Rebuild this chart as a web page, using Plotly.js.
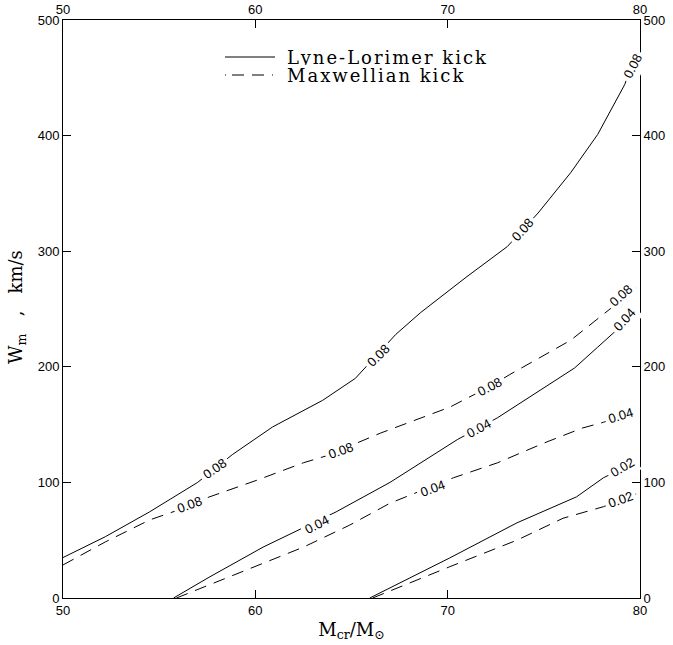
<!DOCTYPE html>
<html>
<head>
<meta charset="utf-8">
<script src="https://cdn.plot.ly/plotly-3.0.1.min.js"></script>
<style>html,body{margin:0;padding:0;background:#fff;}#chart{width:673px;height:645px;}</style>
</head>
<body>
<div id="chart"></div>
<script>
// Lyne-Lorimer kick (solid) contours
const llTop_x = [50, 52.2, 54.5, 57, 58.8, 60.9, 63.5, 65.2, 67.3, 68.6, 71, 73.1, 74.7, 76.4, 77.8, 79.2, 79.8];
const llTop_y = [35, 53, 74.5, 100, 124, 148, 171, 190, 228, 247, 278, 304, 333, 368, 401, 444, 470];
const llMid_x = [55.75, 57.6, 60.4, 62.3, 64.2, 67.0, 70.5, 72.6, 75.0, 76.6, 77.8, 78.8, 79.8];
const llMid_y = [0, 18, 44, 59, 74.5, 100, 137, 156, 182, 199, 217, 232, 248];
const llLow_x = [65.95, 70.1, 73.6, 76.7, 78.1, 79.8];
const llLow_y = [0, 34.6, 65, 87.5, 104, 118];
// Maxwellian kick (dashed) contours
const mxTop_x = [50, 52.2, 54.5, 55.8, 57.6, 60.1, 62.5, 63.7, 66.5, 70.1, 72.2, 73.2, 76.4, 78.4, 79.8];
const mxTop_y = [28.6, 48.5, 67.5, 75, 87.4, 102, 117, 123, 142.6, 165, 183, 193, 223, 249, 268];
const mxMid_x = [55.9, 56.6, 58.3, 60.4, 62.5, 64.9, 67.0, 70.3, 72.6, 75.0, 77.0, 78.1, 79.8];
const mxMid_y = [0, 4.6, 16, 30, 44, 63, 82, 104, 117, 134, 147, 152, 162];
const mxLow_x = [66.1, 67.5, 70.1, 73.6, 76.0, 78.1, 79.8];
const mxLow_y = [0, 9.5, 27, 50, 69, 79, 90];
// contour labels
const labelText  = ["0.08","0.08","0.08","0.08", "0.08","0.08","0.08","0.08", "0.04","0.04","0.04", "0.04","0.04", "0.02","0.02"];
const labelX     = [57.9, 66.4, 73.9, 79.6,  56.6, 64.45, 72.2, 79.0,  63.2, 71.6, 79.2,  69.2, 79.0,  79.07, 79.0];
const labelY     = [112, 209.5, 318.6, 460,  80.5, 128, 183, 262,  64, 147, 240.7,  95, 158,  112.5, 85];
const labelAngle = [-35, -45, -48, -63,  -20, -20, -27, -42,  -27, -28, -48,  -20, -17,  -30, -20];
// axes
const xTicks = [50, 60, 70, 80];
const yTicks = [0, 100, 200, 300, 400, 500];
const legendNames = ["Lyne-Lorimer kick", "Maxwellian kick"];
const xTitle = "M<sub>cr</sub>/M<sub>\u2299</sub>";
const yTitle = "W<sub>m</sub>   ,   km/s";

const solid = {color: "#000", width: 1, dash: "solid"};
const dashed = {color: "#000", width: 1, dash: "12px,8px"};
function tr(x, y, line) {
  return {x: x, y: y, type: "scatter", mode: "lines", line: line, showlegend: false, hoverinfo: "skip"};
}
const data = [
  tr(llTop_x, llTop_y, solid), tr(llMid_x, llMid_y, solid), tr(llLow_x, llLow_y, solid),
  tr(mxTop_x, mxTop_y, dashed), tr(mxMid_x, mxMid_y, dashed), tr(mxLow_x, mxLow_y, dashed),
  {x: [xTicks[0], xTicks[xTicks.length-1]], y: [yTicks[0], yTicks[yTicks.length-1]], xaxis: "x2", yaxis: "y2",
   type: "scatter", mode: "markers", marker: {opacity: 0}, showlegend: false, hoverinfo: "skip"}
];

const tickFont = {family: "Liberation Sans, Arial, sans-serif", size: 13, color: "#000"};
const serif = "DejaVu Serif, Liberation Serif, serif";
const axBase = {
  range: [50, 80], tickvals: xTicks, ticks: "inside", ticklen: 8, tickcolor: "#000", tickwidth: 1,
  showline: true, linecolor: "#000", linewidth: 1, showgrid: false, zeroline: false, tickfont: tickFont
};
const ayBase = {
  range: [0, 500], tickvals: yTicks, ticks: "inside", ticklen: 8, tickcolor: "#000", tickwidth: 1,
  showline: true, linecolor: "#000", linewidth: 1, showgrid: false, zeroline: false, tickfont: tickFont
};

const annotations = labelText.map((t, i) => ({
  x: labelX[i], y: labelY[i], xref: "x", yref: "y", text: t, showarrow: false,
  textangle: labelAngle[i], font: {family: "Liberation Sans, Arial, sans-serif", size: 13, color: "#000"},
  bgcolor: "#fff", borderpad: 3
}));
// legend text
const legX = (285-63)/577;
annotations.push({xref: "paper", yref: "paper", x: legX, y: 1 - (57-20)/578, xanchor: "left", yanchor: "middle", height: 16,
  text: '<span style="letter-spacing:2px">' + legendNames[0] + '</span>', showarrow: false, font: {family: serif, size: 18, color: "#000"}});
annotations.push({xref: "paper", yref: "paper", x: legX, y: 1 - (75-20)/578, xanchor: "left", yanchor: "middle", height: 16,
  text: '<span style="letter-spacing:2px">' + legendNames[1] + '</span>', showarrow: false, font: {family: serif, size: 18, color: "#000"}});
// y-axis title
annotations.push({xref: "paper", yref: "paper", x: (17-63)/577, y: 1 - (307-20)/578, xanchor: "center", yanchor: "middle",
  text: yTitle, textangle: -90, showarrow: false, font: {family: serif, size: 18, color: "#000"}});

const shapes = [
  {type: "line", xref: "paper", yref: "paper", x0: (225-63)/577, x1: (275-63)/577, y0: 1 - (57-20)/578, y1: 1 - (57-20)/578,
   line: {color: "#000", width: 1}},
  {type: "line", xref: "paper", yref: "paper", x0: (225-63)/577, x1: (275-63)/577, y0: 1 - (75-20)/578, y1: 1 - (75-20)/578,
   line: {color: "#000", width: 1, dash: "1px,6px,12px,8px,12px,8px"}}
];

const layout = {
  width: 673, height: 645,
  margin: {l: 63, r: 33, t: 20, b: 47, pad: 0},
  paper_bgcolor: "#fff", plot_bgcolor: "#fff",
  showlegend: false,
  xaxis: Object.assign({}, axBase, {side: "bottom", anchor: "y",
    title: {text: xTitle, font: {family: serif, size: 18, color: "#000"}, standoff: 6}}),
  xaxis2: Object.assign({}, axBase, {side: "top", overlaying: "x", anchor: "y"}),
  yaxis: Object.assign({}, ayBase, {side: "left", anchor: "x"}),
  yaxis2: Object.assign({}, ayBase, {side: "right", overlaying: "y", anchor: "x"}),
  annotations: annotations,
  shapes: shapes
};

Plotly.newPlot("chart", data, layout, {staticPlot: true, displayModeBar: false});
</script>
</body>
</html>
